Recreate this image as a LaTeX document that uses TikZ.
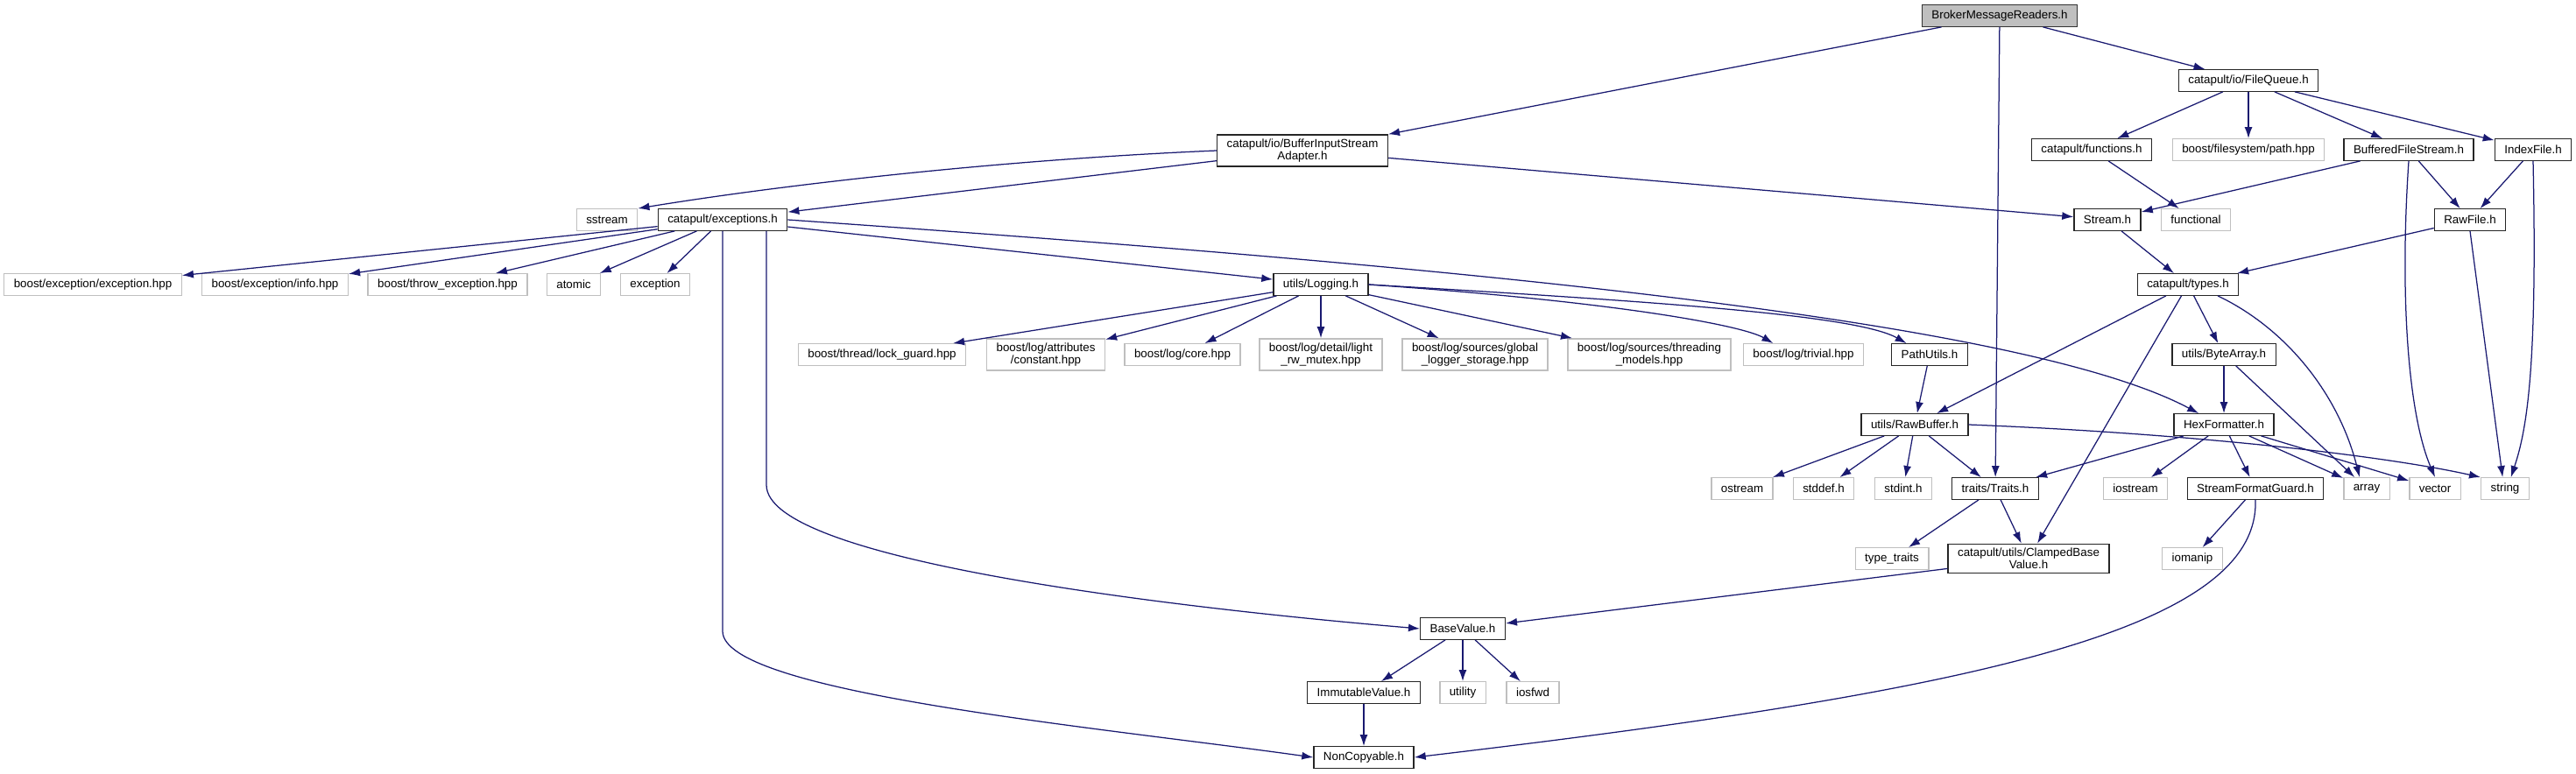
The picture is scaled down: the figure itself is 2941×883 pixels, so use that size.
\documentclass[tikz,border=0pt]{standalone}
\usepackage{fontspec}
\setsansfont{Liberation Sans}
\usetikzlibrary{arrows.meta,calc}
\definecolor{edgeNavy}{HTML}{191970}
\definecolor{lineMuted}{HTML}{BFBFBF}
\definecolor{bgRoot}{HTML}{BFBFBF}
\definecolor{textPrimary}{HTML}{000000}

\begin{document}
\begin{tikzpicture}[x=0.2mm,y=-0.2mm,
    every node/.style={align=center,font=\sffamily\fontsize{7.6pt}{7.8pt}\selectfont,
                       text=textPrimary,inner xsep=2.2mm,inner ysep=1mm,
                       minimum height=4.9mm},
    hdr/.style={draw=black!85,line width=0.26mm,fill=white},
    sys/.style={draw=lineMuted,line width=0.28mm,fill=white},
    root/.style={draw=black!80,line width=0.26mm,fill=bgRoot},
    dep/.style={-{Latex[length=2.6mm,width=1.8mm]},draw=edgeNavy,line width=0.25mm}]
  \useasboundingbox (0,0) rectangle (2941,883);

  % files, rank by rank
  \node[root] (broker) at (2283,18) {BrokerMessageReaders.h};

  \node[hdr] (fq) at (2567,92) {catapult/io/FileQueue.h};

  \node[hdr] (adapter) at (1487,172) {catapult/io/BufferInputStream\\Adapter.h};
  \node[hdr] (funcs) at (2388,171) {catapult/functions.h};
  \node[sys] (fspath) at (2567,171) {boost/filesystem/path.hpp};
  \node[hdr] (bfs) at (2750,171) {BufferedFileStream.h};
  \node[hdr] (idx) at (2892,171) {IndexFile.h};

  \node[sys] (sstream) at (693,251) {sstream};
  \node[hdr] (exc) at (825,251) {catapult/exceptions.h};
  \node[hdr] (stream) at (2406,251) {Stream.h};
  \node[sys] (functional) at (2507,251) {functional};
  \node[hdr] (rawfile) at (2820,251) {RawFile.h};

  \node[sys] (bexc) at (106,325) {boost/exception/exception.hpp};
  \node[sys] (binfo) at (314,325) {boost/exception/info.hpp};
  \node[sys] (bthrow) at (511,325) {boost/throw\_exception.hpp};
  \node[sys] (atomic) at (655,325) {atomic};
  \node[sys] (exception) at (748,325) {exception};
  \node[hdr] (logging) at (1508,325) {utils/Logging.h};
  \node[hdr] (types) at (2498,325) {catapult/types.h};

  \node[sys] (lockguard) at (1007,405) {boost/thread/lock\_guard.hpp};
  \node[sys] (constant) at (1194,405) {boost/log/attributes\\/constant.hpp};
  \node[sys] (logcore) at (1350,405) {boost/log/core.hpp};
  \node[sys] (rwmutex) at (1508,405) {boost/log/detail/light\\\_rw\_mutex.hpp};
  \node[sys] (globallog) at (1684,405) {boost/log/sources/global\\\_logger\_storage.hpp};
  \node[sys] (threading) at (1883,405) {boost/log/sources/threading\\\_models.hpp};
  \node[sys] (trivial) at (2059,405) {boost/log/trivial.hpp};
  \node[hdr] (pathutils) at (2203,405) {PathUtils.h};
  \node[hdr] (bytearray) at (2539,405) {utils/ByteArray.h};

  \node[hdr] (rawbuf) at (2186,485) {utils/RawBuffer.h};
  \node[hdr] (hexfmt) at (2539,485) {HexFormatter.h};

  \node[sys] (ostream) at (1989,558) {ostream};
  \node[sys] (stddef) at (2082,558) {stddef.h};
  \node[sys] (stdint) at (2173,558) {stdint.h};
  \node[hdr] (traits) at (2278,558) {traits/Traits.h};
  \node[sys] (iostream) at (2438,558) {iostream};
  \node[hdr] (sfg) at (2575,558) {StreamFormatGuard.h};
  \node[sys] (array) at (2702,558) {array};
  \node[sys] (vector) at (2780,558) {vector};
  \node[sys] (string) at (2860,558) {string};

  \node[sys] (typetraits) at (2160,638) {type\_traits};
  \node[hdr] (clamped) at (2316,638) {catapult/utils/ClampedBase\\Value.h};
  \node[sys] (iomanip) at (2503,638) {iomanip};

  \node[hdr] (basevalue) at (1670,718) {BaseValue.h};

  \node[hdr] (immutable) at (1557,791) {ImmutableValue.h};
  \node[sys] (utility) at (1670,791) {utility};
  \node[sys] (iosfwd) at (1750,791) {iosfwd};

  \node[hdr] (noncopy) at (1557,865) {NonCopyable.h};

  % includes
  \draw[dep] (broker) -- (adapter.north east);
  \draw[dep] (broker) -- (fq);
  \draw[dep] (broker) -- (traits);

  \draw[dep] (adapter.west) .. controls (1150,182) and (900,210) .. (sstream.north east);
  \draw[dep] (adapter) -- (exc);
  \draw[dep] (adapter) -- (stream);

  \draw[dep] (exc) -- (bexc);
  \draw[dep] (exc) -- (binfo);
  \draw[dep] (exc) -- (bthrow);
  \draw[dep] (exc) -- (atomic);
  \draw[dep] (exc) -- (exception);
  \draw[dep] (exc) -- (logging);
  \draw[dep] (exc.east) .. controls (1600,300) and (2300,360)
        .. ($(hexfmt.north west)!0.25!(hexfmt.north east)$);
  \draw[dep] ($(exc.south)+(50,0)$) -- ++(0,290)
        .. controls +(0,87) and (1350,695) .. (basevalue.west);
  \draw[dep] (exc.south) -- ++(0,457)
        .. controls +(0,70) and (1250,830) .. (noncopy.west);

  \draw[dep] (logging) -- (lockguard);
  \draw[dep] (logging) -- (constant);
  \draw[dep] (logging) -- (logcore);
  \draw[dep] (logging) -- (rwmutex);
  \draw[dep] (logging) -- (globallog);
  \draw[dep] (logging) -- (threading);
  \draw[dep] (logging.east) .. controls (1850,345) and (1990,372)
        .. ($(trivial.north west)!0.25!(trivial.north east)$);
  \draw[dep] (logging.east) .. controls (1900,345) and (2120,360)
        .. ($(pathutils.north west)!0.2!(pathutils.north east)$);
  \draw[dep] (pathutils) -- (rawbuf);

  \draw[dep] (fq) -- (funcs);
  \draw[dep] (fq) -- (fspath);
  \draw[dep] (fq) -- (bfs);
  \draw[dep] (fq) -- (idx);
  \draw[dep] (funcs) -- (functional);

  \draw[dep] (bfs) -- (stream);
  \draw[dep] (bfs) -- (rawfile);
  \draw[dep] (bfs.south) .. controls (2740,330) and (2748,470) .. (vector.north);
  \draw[dep] (idx) -- (rawfile);
  \draw[dep] (idx.south) .. controls (2897,420) and (2885,490)
        .. ($(string.north west)!0.62!(string.north east)$);
  \draw[dep] (rawfile) -- (types);
  \draw[dep] (rawfile.south) -- ($(string.north west)!0.45!(string.north east)$);
  \draw[dep] (stream) -- (types);

  \draw[dep] (types) -- (rawbuf);
  \draw[dep] (types) -- (clamped);
  \draw[dep] (types) -- (bytearray);
  \draw[dep] ($(types.south)+(34,0)$) .. controls (2610,375) and (2670,450)
        .. ($(array.north west)!0.35!(array.north east)$);
  \draw[dep] (bytearray) -- (hexfmt);
  \draw[dep] (bytearray) -- (array);

  \draw[dep] (rawbuf) -- (ostream);
  \draw[dep] (rawbuf) -- (stddef);
  \draw[dep] (rawbuf) -- (stdint);
  \draw[dep] (rawbuf) -- (traits);
  \draw[dep] (rawbuf.east) .. controls (2500,495) and (2720,520) .. (string.north west);

  \draw[dep] (hexfmt) -- (traits);
  \draw[dep] (hexfmt) -- (iostream);
  \draw[dep] (hexfmt) -- (sfg);
  \draw[dep] (hexfmt) -- (array);
  \draw[dep] (hexfmt) -- (vector);

  \draw[dep] (traits) -- (typetraits);
  \draw[dep] (traits) -- (clamped);
  \draw[dep] (clamped) -- (basevalue);
  \draw[dep] (sfg) -- (iomanip);
  \draw[dep] (sfg.south) .. controls (2580,720) and (2250,790) .. (noncopy.east);

  \draw[dep] (basevalue) -- (immutable);
  \draw[dep] (basevalue) -- (utility);
  \draw[dep] (basevalue) -- (iosfwd);
  \draw[dep] (immutable) -- (noncopy);
\end{tikzpicture}
\end{document}
